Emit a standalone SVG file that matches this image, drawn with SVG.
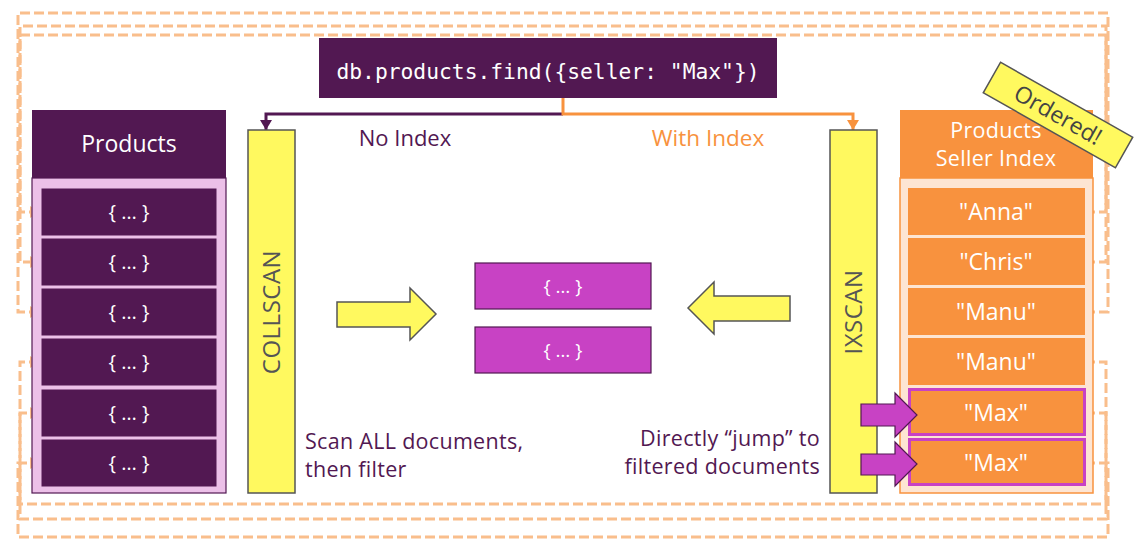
<svg xmlns="http://www.w3.org/2000/svg" width="1135" height="557" viewBox="0 0 1135 557">
<style>
.t{font-family:"Open Sans","Noto Sans",sans-serif}
.w{fill:#fff}
.doc{fill:#521852;stroke:#ECC0E8;stroke-width:1}
.idx{fill:#F8923E}
.res{fill:#C842C4;stroke:#521852;stroke-width:1.2}
.bar{fill:#FFF95F;stroke:#555;stroke-width:1.5}
.dash{fill:none;stroke:#F9BE8C;stroke-width:3;stroke-dasharray:10 4}
.yarrow{fill:#FFF95F;stroke:#555;stroke-width:1.5}
.marrow{fill:#C842C4;stroke:#521852;stroke-width:1.2}
</style>
<defs>
<marker id="ah" markerUnits="userSpaceOnUse" markerWidth="12" markerHeight="12" refX="10" refY="6" orient="auto">
<path d="M0,0 L10,6 L0,12 Z" fill="#F9BE8C"/>
</marker>
<marker id="ap" markerUnits="userSpaceOnUse" markerWidth="12" markerHeight="12" refX="10" refY="6" orient="auto">
<path d="M0,0 L10,6 L0,12 Z" fill="#521852"/>
</marker>
<marker id="ao" markerUnits="userSpaceOnUse" markerWidth="12" markerHeight="12" refX="10" refY="6" orient="auto">
<path d="M0,0 L10,6 L0,12 Z" fill="#F8923E"/>
</marker>
</defs>

<g id="connectors">
<path class="dash" d="M1085,212 H1106 V35 H20 V212 H40" marker-end="url(#ah)"/>
<path class="dash" d="M1085,262 H1106 V26 H20 V262 H40" marker-end="url(#ah)"/>
<path class="dash" d="M1085,312 H1108 V13 H18 V312 H40" marker-end="url(#ah)"/>
<path class="dash" d="M1085,362 H1106 V504 H20 V362 H40" marker-end="url(#ah)"/>
<path class="dash" d="M1085,413 H1106 V519 H20 V413 H40" marker-end="url(#ah)"/>
<path class="dash" d="M1085,463 H1108 V537 H18 V463 H40" marker-end="url(#ah)"/>
<path d="M563,114 H266 V130" fill="none" stroke="#521852" stroke-width="3" marker-end="url(#ap)"/>
<path d="M563,98 V114 H853 V130" fill="none" stroke="#F8923E" stroke-width="3" marker-end="url(#ao)"/>
</g>

<g id="query">
<rect x="319" y="38" width="458" height="60" fill="#521852"/>
<text x="548" y="79" text-anchor="middle" font-family="'DejaVu Sans Mono','Liberation Mono',monospace" font-size="21.3" fill="#fff">db.products.find({seller: "Max"})</text>
</g>

<g id="labels">
<text class="t" x="405" y="146" text-anchor="middle" font-size="22" fill="#521852">No Index</text>
<text class="t" x="708" y="146" text-anchor="middle" font-size="22.5" fill="#F8923E">With Index</text>
<text class="t" x="305" y="449" font-size="21.5" letter-spacing="0.3" fill="#521852">Scan ALL documents,</text>
<text class="t" x="305" y="477" font-size="21.5" letter-spacing="0.3" fill="#521852">then filter</text>
<text class="t" x="820" y="446" text-anchor="end" font-size="21.5" letter-spacing="0.3" fill="#521852">Directly “jump” to</text>
<text class="t" x="820" y="474" text-anchor="end" font-size="21.5" letter-spacing="0.3" fill="#521852">filtered documents</text>
</g>

<g id="products">
<rect x="32" y="110" width="194" height="68" fill="#521852"/>
<text class="t w" x="129" y="152" text-anchor="middle" font-size="23">Products</text>
<rect x="32" y="178" width="194" height="315" fill="#ECC0E8" stroke="#521852" stroke-width="1.2"/>
<rect class="doc" x="41" y="188" width="176" height="48"/>
<rect class="doc" x="41" y="238" width="176" height="48"/>
<rect class="doc" x="41" y="288" width="176" height="48"/>
<rect class="doc" x="41" y="338" width="176" height="48"/>
<rect class="doc" x="41" y="389" width="176" height="48"/>
<rect class="doc" x="41" y="439" width="176" height="48"/>
<g class="t w" font-size="20" text-anchor="middle">
<text x="129" y="219">{ … }</text>
<text x="129" y="269">{ … }</text>
<text x="129" y="319">{ … }</text>
<text x="129" y="369">{ … }</text>
<text x="129" y="420">{ … }</text>
<text x="129" y="470">{ … }</text>
</g>
</g>

<g id="collscan">
<rect class="bar" x="248" y="130" width="47" height="363"/>
<text class="t" transform="translate(280,312) rotate(-90)" text-anchor="middle" font-size="24" letter-spacing="0.5" fill="#555">COLLSCAN</text>
</g>

<g id="ixscan">
<rect class="bar" x="830" y="130" width="47" height="363"/>
<text class="t" transform="translate(862,312) rotate(-90)" text-anchor="middle" font-size="24" letter-spacing="0.5" fill="#555">IXSCAN</text>
</g>

<g id="arrow-right">
<polygon class="yarrow" points="337,302 410,302 410,288 436,314 410,340 410,327 337,327"/>
</g>
<g id="arrow-left">
<polygon class="yarrow" points="790,296 714,296 714,282 688,308 714,334 714,321 790,321"/>
</g>

<g id="results">
<rect class="res" x="475" y="263" width="176" height="46"/>
<rect class="res" x="475" y="327" width="176" height="46"/>
<text class="t w" x="563" y="293" text-anchor="middle" font-size="19">{ … }</text>
<text class="t w" x="563" y="357" text-anchor="middle" font-size="19">{ … }</text>
</g>

<g id="index">
<rect x="900" y="110" width="193" height="68" fill="#F8923E"/>
<text class="t w" x="996" y="138" text-anchor="middle" font-size="21.5" letter-spacing="0.3">Products</text>
<text class="t w" x="996" y="166" text-anchor="middle" font-size="21.5" letter-spacing="0.3">Seller Index</text>
<rect x="900" y="178" width="193" height="315" fill="#FDE5D3" stroke="#F8923E" stroke-width="1.5"/>
<rect class="idx" x="908" y="188" width="177" height="47"/>
<rect class="idx" x="908" y="238" width="177" height="47"/>
<rect class="idx" x="908" y="288" width="177" height="47"/>
<rect class="idx" x="908" y="338" width="177" height="47"/>
<rect class="idx" x="909.5" y="389.5" width="175" height="45" stroke="#C842C4" stroke-width="3"/>
<rect class="idx" x="909.5" y="439.5" width="175" height="45" stroke="#C842C4" stroke-width="3"/>
<g class="t w" font-size="23" text-anchor="middle">
<text x="996" y="220">"Anna"</text>
<text x="996" y="270">"Chris"</text>
<text x="996" y="320">"Manu"</text>
<text x="996" y="370">"Manu"</text>
<text x="996" y="421">"Max"</text>
<text x="996" y="471">"Max"</text>
</g>
</g>

<g id="jump-arrows">
<polygon class="marrow" points="861,404 895,404 895,393 917,415 895,437 895,426 861,426"/>
<polygon class="marrow" points="861,454 895,454 895,442 917,464 895,486 895,475 861,475"/>
</g>

<g id="ordered" transform="translate(1058,115) rotate(29.6)">
<rect x="-76" y="-17.5" width="152" height="35" fill="#FFF95F" stroke="#555" stroke-width="1.5"/>
<text class="t" x="0" y="8" text-anchor="middle" font-size="23" fill="#444">Ordered!</text>
</g>
</svg>
